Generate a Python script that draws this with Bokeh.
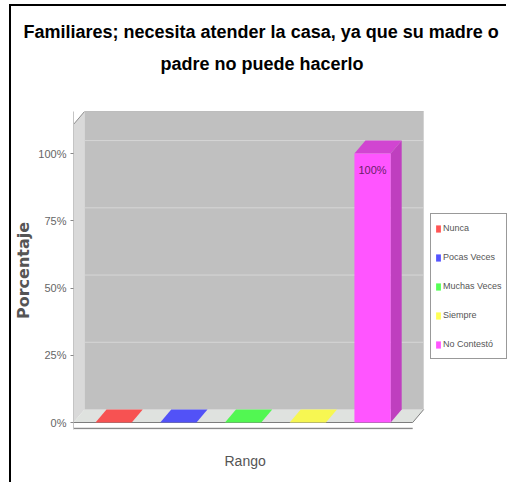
from bokeh.plotting import figure
from bokeh.models import Range1d, Legend, LegendItem, Title, FixedTicker, PrintfTickFormatter
from bokeh.core.properties import value
from bokeh.embed import file_html
from bokeh.resources import INLINE

# ---- data ----
categories = ["Nunca", "Pocas Veces", "Muchas Veces", "Siempre", "No Contestó"]
percentages = [0, 0, 0, 0, 100]
colors = ["#ff5555", "#5555ff", "#55ff55", "#ffff55", "#ff55ff"]
y_ticks = [0, 25, 50, 75, 100]
title_lines = ["Familiares; necesita atender la casa, ya que su madre o",
               "padre no puede hacerlo"]
x_label = "Rango"
y_label = "Porcentaje"

# ---- style constants ----
FONT = "Liberation Sans"
DX, DY = 0.17, 4.83          # 3D depth in data units
BAR_W = 0.56
MARGIN = 0.62
RIGHT_PAD = 1.31             # room at the right for the legend
Y_BOTTOM = -2.6
Y_TOP_FRONT = 110.8

n = len(categories)
x_lo, x_hi = -MARGIN, n - 1 + MARGIN
top_back = Y_TOP_FRONT + DY


def shade(hex_color, f):
    h = hex_color.lstrip("#")
    r, g, b = (int(h[i:i + 2], 16) for i in (0, 2, 4))
    return "#%02x%02x%02x" % (int(r * f), int(g * f), int(b * f))


p = figure(width=497, height=478, output_backend="svg", toolbar_location=None,
           x_axis_location=None,
           x_range=Range1d(x_lo, x_hi + DX + RIGHT_PAD), y_range=Range1d(Y_BOTTOM, top_back),
           min_border_left=62, min_border_right=0, min_border_top=105,
           min_border_bottom=55, outline_line_color=None,
           background_fill_color="white", border_fill_color="white")
p.styles = {"margin-left": "9px", "margin-top": "4px",
            "border-left": "2px solid black", "border-top": "2px solid black"}
p.xgrid.visible = False
p.ygrid.visible = False

# ---- 3D box: left wall, floor, back wall ----
p.patch([x_lo, x_lo + DX, x_lo + DX, x_lo], [0, DY, top_back, Y_TOP_FRONT],
        fill_color="#d9d9d9", line_color=None)
p.patch([x_lo, x_hi, x_hi + DX, x_lo + DX], [0, 0, DY, DY],
        fill_color="#dfe2df", line_color=None)
p.quad(left=[x_lo + DX], right=[x_hi + DX], bottom=[DY], top=[top_back],
       fill_color="#c0c0c0", line_color=None)
# back-wall gridlines
p.segment(x0=[x_lo + DX] * len(y_ticks), x1=[x_hi + DX] * len(y_ticks),
          y0=[t + DY for t in y_ticks], y1=[t + DY for t in y_ticks],
          line_color="#d6d6d6", line_width=1)
# edges
p.line([x_lo, x_lo + DX, x_hi + DX], [Y_TOP_FRONT, top_back, top_back],
       line_color="#8c8c8c", line_width=1)
p.line([x_lo, x_hi, x_hi + DX], [0, 0, DY], line_color="#7d7d7d", line_width=1)
# category axis line
p.segment(x0=[x_lo], x1=[x_hi], y0=[Y_BOTTOM + 0.4], y1=[Y_BOTTOM + 0.4],
          line_color="#8a8a8a", line_width=1.5)

# ---- bars ----
lefts = [i - BAR_W / 2 for i in range(n)]
rights = [i + BAR_W / 2 for i in range(n)]
top_xs, top_ys, top_cols = [], [], []
side_xs, side_ys, side_cols = [], [], []
for i, v in enumerate(percentages):
    l, r = lefts[i], rights[i]
    top_xs.append([l, r, r + DX, l + DX])
    top_ys.append([v, v, v + DY, v + DY])
    top_cols.append(shade(colors[i], 0.82 if v > 0 else 0.97))
    if v > 0:
        side_xs.append([r, r + DX, r + DX, r])
        side_ys.append([0, DY, v + DY, v])
        side_cols.append(shade(colors[i], 0.75))

p.patches(xs=side_xs, ys=side_ys, fill_color=side_cols, line_color=None)
p.patches(xs=top_xs, ys=top_ys, fill_color=top_cols, line_color=None)

items = []
for i, cat in enumerate(categories):
    r_ = p.quad(left=[lefts[i]], right=[rights[i]], bottom=[0], top=[percentages[i]],
                fill_color=colors[i], line_color=None)
    items.append(LegendItem(label=cat, renderers=[r_]))

# value labels
lab_x = [i for i, v in enumerate(percentages) if v > 0]
lab_y = [v for v in percentages if v > 0]
lab_t = ["%d%%" % v for v in lab_y]
p.text(x=lab_x, y=lab_y, text=lab_t, text_align="center", text_baseline="top",
       y_offset=10, text_font_size="11px", text_color="#6a206a",
       text_font=value(FONT))

# ---- y axis ----
p.yaxis.ticker = FixedTicker(ticks=y_ticks)
p.yaxis.formatter = PrintfTickFormatter(format="%d%%")
p.yaxis.major_tick_in = 0
p.yaxis.major_tick_out = 3
p.yaxis.minor_tick_line_color = None
p.yaxis.major_tick_line_color = "#888888"
p.yaxis.axis_line_color = "#c4c4c4"
p.yaxis.major_label_text_font = FONT
p.yaxis.major_label_text_font_size = "11px"
p.yaxis.major_label_text_color = "#666666"
p.yaxis.major_label_standoff = 4
p.yaxis.axis_label = y_label
p.yaxis.axis_label_text_font = "DejaVu Sans"
p.yaxis.axis_label_text_font_style = "bold"
p.yaxis.axis_label_text_font_size = "16px"
p.yaxis.axis_label_text_color = "#555555"
p.yaxis.axis_label_standoff = 2

# ---- legend (inside the frame, at the right) ----
legend = Legend(items=items, location=(357, 70), orientation="vertical",
                border_line_color="#333333", border_line_width=1,
                background_fill_color="white", background_fill_alpha=1.0,
                label_text_font=FONT, label_text_font_size="9px",
                label_text_color="#555555", glyph_width=6, glyph_height=9,
                label_height=20, label_standoff=2, padding=4, spacing=9, margin=0)
p.add_layout(legend, "center")

# ---- title (two lines) + spacer between title and plot ----
spacer = Title(text=" ", text_font_size="10px", standoff=21)
t2 = Title(text=title_lines[1], align="left", offset=87, standoff=8,
           text_font=FONT, text_font_size="18px", text_font_style="bold",
           text_color="black")
t1 = Title(text=title_lines[0], align="left", offset=-50, standoff=12,
           text_font=FONT, text_font_size="18px", text_font_style="bold",
           text_color="black")
p.add_layout(spacer, "above")
p.add_layout(t2, "above")
p.add_layout(t1, "above")

# ---- category axis label below ----
spacer_b = Title(text=" ", text_font_size="10px", standoff=8)
xlab = Title(text=x_label, align="left", offset=151, standoff=4, vertical_align="top",
             text_font=FONT, text_font_size="14px", text_font_style="normal",
             text_color="#555555")
p.add_layout(spacer_b, "below")
p.add_layout(xlab, "below")

open("out.html", "w").write(file_html(p, INLINE))
